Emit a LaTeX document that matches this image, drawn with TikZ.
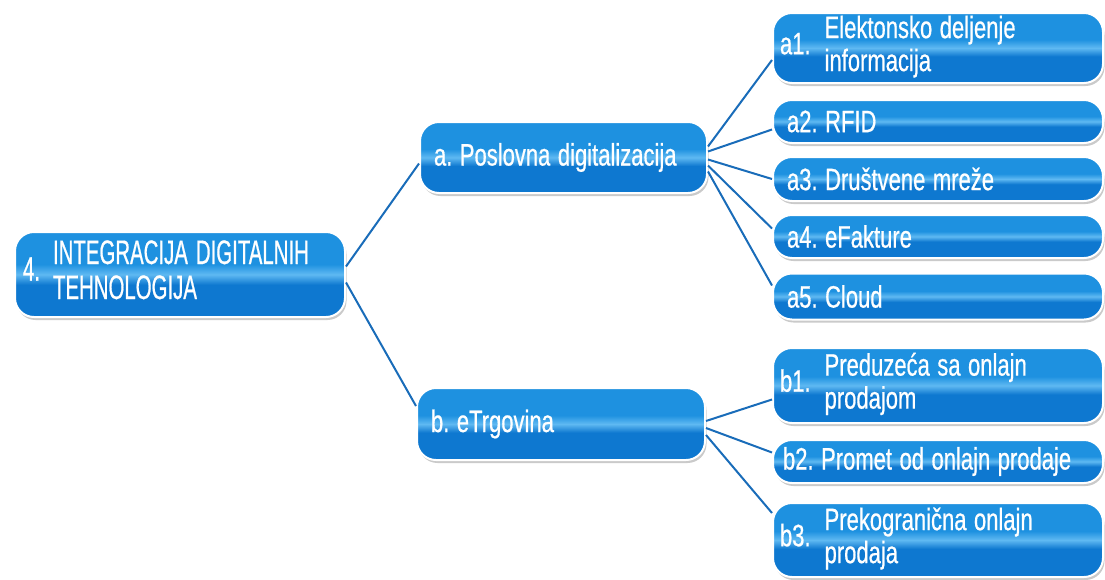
\documentclass[tikz,border=0pt]{standalone}
\usepackage{fontspec}
\setmainfont{Liberation Sans}[FakeStretch=0.71,FakeBold=0.6]
\newfontfamily\capsfont{Liberation Sans}[FakeStretch=0.6,FakeBold=0.6]
\usetikzlibrary{shadows}
\definecolor{btop}{RGB}{70,170,238}
\definecolor{bup}{RGB}{30,145,224}
\definecolor{bhl}{RGB}{95,185,242}
\definecolor{blow}{RGB}{14,120,208}
\definecolor{bbot}{RGB}{8,95,175}
\definecolor{linkcol}{RGB}{25,108,185}
\pgfdeclareverticalshading{boxshade}{100bp}{color(0bp)=(bbot); color(12bp)=(blow); color(44bp)=(blow); color(50bp)=(bhl); color(56bp)=(bup); color(90bp)=(bup); color(100bp)=(btop)}
\newcommand{\fntbox}{\fontsize{31}{33}\selectfont\frenchspacing\spaceskip=7.5pt\relax}
\newcommand{\fntmain}{\capsfont\fontsize{34}{35}\selectfont\frenchspacing\spaceskip=8pt\relax}
\newcommand{\twoline}[4][14pt]{#2\hspace{#1}\begin{tabular}[c]{@{}l@{}}#3\\#4\end{tabular}}
\begin{document}
\begin{tikzpicture}[x=1pt,y=-1pt,
  box/.style={shade, shading=boxshade, draw=white, line width=2pt,
    rounded corners=19pt, text=white, inner xsep=14pt, inner ysep=0pt,
    align=flush left, anchor=center, font=\fntbox,
    drop shadow={shadow xshift=1.5pt, shadow yshift=-3pt, opacity=0.35, fill=black!60}},
  rbox/.style={box, minimum width=330pt, text width=302pt},
  link/.style={draw=linkcol, line width=2pt}]
\useasboundingbox (0,0) rectangle (1105,579);
% main
\node[box, minimum width=330pt, text width=314pt, minimum height=85pt, inner xsep=8pt, font=\fntmain] (main) at (180,274.5)
  {\twoline[13pt]{4.}{INTEGRACIJA DIGITALNIH}{TEHNOLOGIJA}};
% level 2
\node[box, minimum width=287pt, text width=259pt, minimum height=71pt] (a) at (563.5,157.5) {a. Poslovna digitalizacija};
\node[box, minimum width=288pt, text width=260pt, minimum height=72pt] (b) at (561,424) {b. eTrgovina};
% level 3
\node[rbox, minimum height=70pt, inner xsep=7pt, text width=316pt] (a1) at (938,48) {\twoline{a1.}{Elektonsko deljenje}{informacija}};
\node[rbox, minimum height=43pt] (a2) at (938,121.5) {a2. RFID};
\node[rbox, minimum height=44pt] (a3) at (938,179) {a3. Društvene mreže};
\node[rbox, minimum height=43pt] (a4) at (938,236.5) {a4. eFakture};
\node[rbox, minimum height=46pt] (a5) at (938,296.5) {a5. Cloud};
\node[rbox, minimum height=75pt, inner xsep=7pt, text width=316pt] (b1) at (938,385.5) {\twoline{b1.}{Preduzeća sa onlajn}{prodajom}};
\node[rbox, minimum height=43pt, inner xsep=10pt, text width=310pt] (b2) at (938,461.5) {b2. Promet od onlajn prodaje};
\node[rbox, minimum height=74pt, inner xsep=7pt, text width=316pt] (b3) at (938,540) {\twoline{b3.}{Prekogranična onlajn}{prodaja}};
% connectors
\draw[link] ([yshift=8pt]main.east) -- ([yshift=-6pt]a.west);
\draw[link] ([yshift=-8pt]main.east) -- ([yshift=18pt]b.west);
\draw[link] ([yshift=11pt]a.east) -- ([yshift=-12pt]a1.west);
\draw[link] ([yshift=6pt]a.east) -- ([yshift=-8pt]a2.west);
\draw[link] ([yshift=-2pt]a.east) -- (a3.west);
\draw[link] ([yshift=-8pt]a.east) -- ([yshift=8pt]a4.west);
\draw[link] ([yshift=-14pt]a.east) -- ([yshift=11pt]a5.west);
\draw[link] ([yshift=3pt]b.east) -- ([yshift=-14pt]b1.west);
\draw[link] ([yshift=-4pt]b.east) -- ([yshift=9pt]b2.west);
\draw[link] ([yshift=-11pt]b.east) -- ([yshift=27pt]b3.west);
\end{tikzpicture}
\end{document}
